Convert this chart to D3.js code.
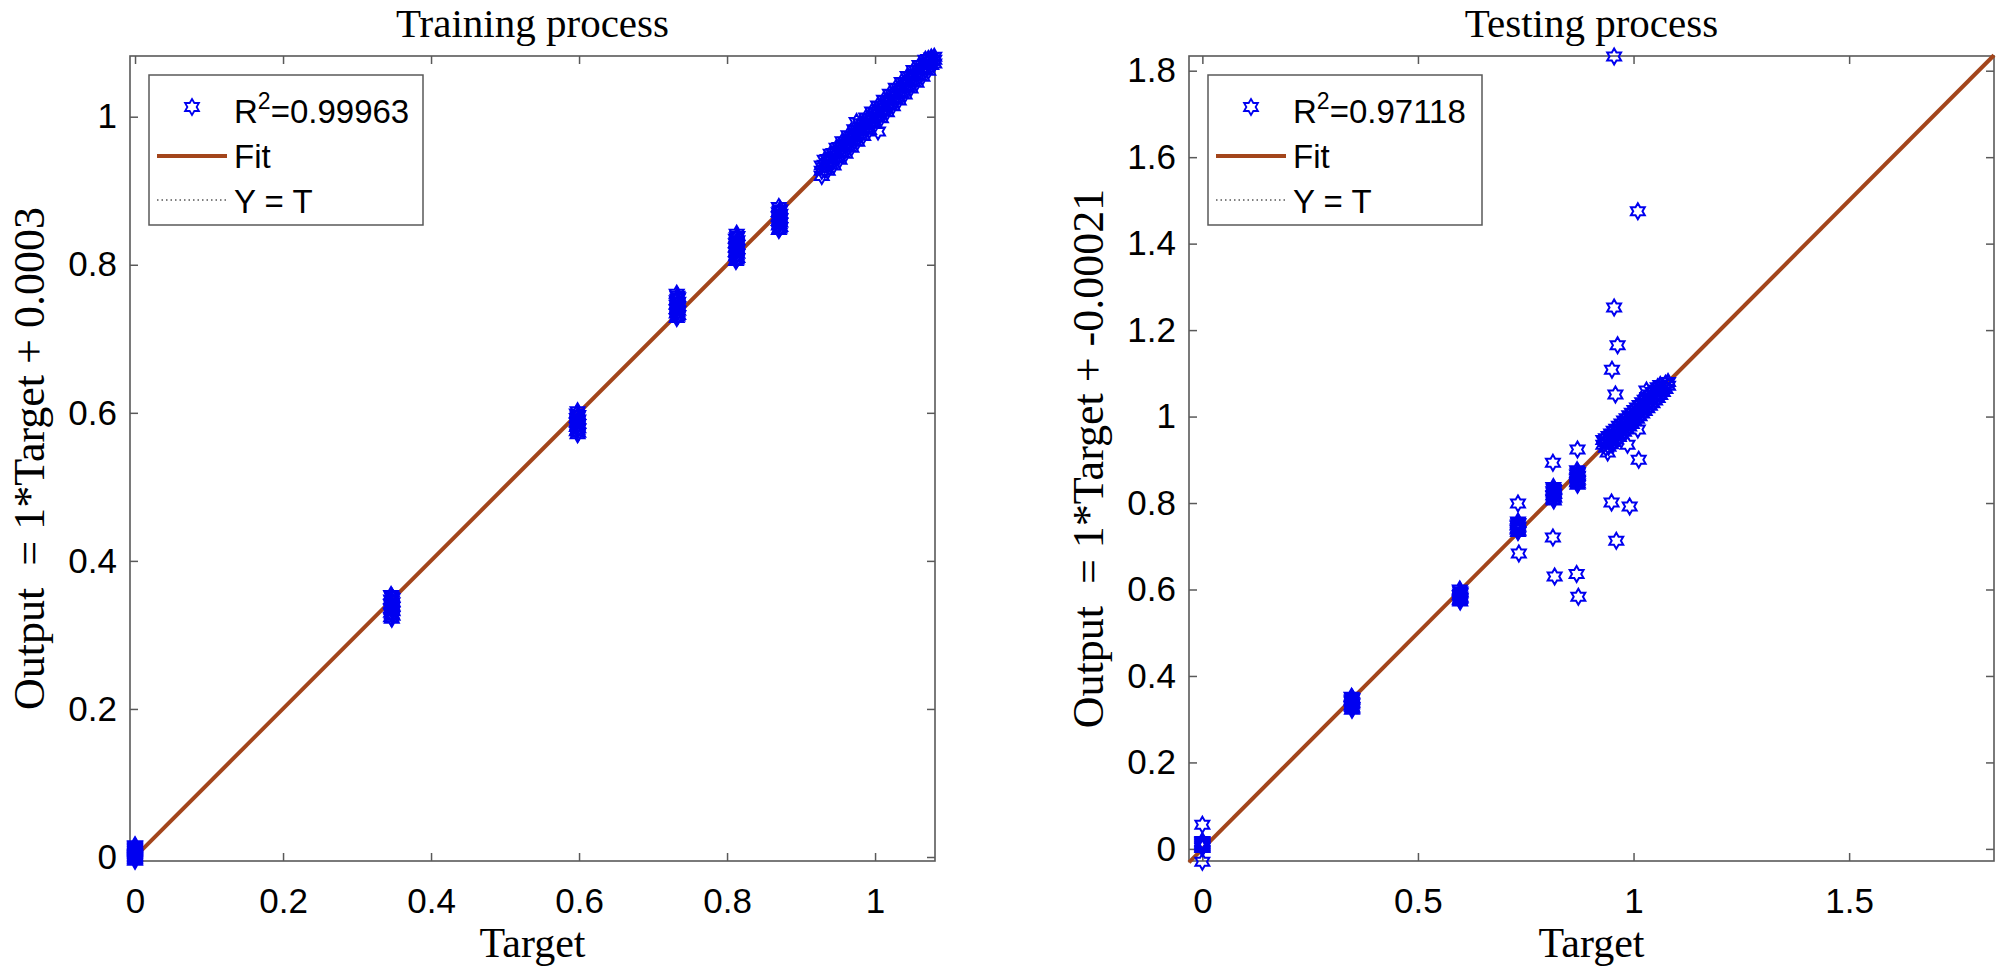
<!DOCTYPE html>
<html>
<head>
<meta charset="utf-8">
<script src="https://cdn.jsdelivr.net/npm/d3@7"></script>
<style>
  body { margin: 0; background: #fff; }
  svg { display: block; }
  text { white-space: pre; }
</style>
</head>
<body>
<svg id="chart" width="2001" height="976"></svg>
<script>
const titles = ['Training process', 'Testing process']
const yLabels = ['Output  = 1*Target + 0.0003', 'Output  = 1*Target + -0.00021']
const xLabel = 'Target'
const r2Values = ['0.99963', '0.97118']
const legendLabels = ['Fit', 'Y = T']
const fitIntercepts = [0.0003, -0.00021]

const trainTicks = [0, 0.2, 0.4, 0.6, 0.8, 1]
const testXTicks = [0, 0.5, 1, 1.5]
const testYTicks = [0, 0.2, 0.4, 0.6, 0.8, 1, 1.2, 1.4, 1.6, 1.8]
const trainXDomain = [-0.0068, 1.081]
const trainYDomain = [-0.0054, 1.082]
const testXDomain = [-0.031, 1.836]
const testYDomain = [-0.028, 1.834]

// [target, output]
const trainPoints = [
  [0, -0.005], [0, -0.0035], [0, -0.002], [0, -0.0005], [0, 0.001], [0, 0.0025], [0, 0.004],
  [0, 0.0055], [0, 0.007], [0, 0.0085], [0, 0.010], [0, 0.0115], [0, 0.013], [0, 0.0145], [0, 0.016],
  [0.347, 0.322], [0.346, 0.324], [0.348, 0.326], [0.347, 0.328], [0.346, 0.330], [0.348, 0.332],
  [0.347, 0.334], [0.346, 0.336], [0.348, 0.338], [0.347, 0.340], [0.346, 0.342], [0.348, 0.344],
  [0.347, 0.346], [0.346, 0.348], [0.348, 0.350], [0.347, 0.352], [0.346, 0.354],
  [0.598, 0.571], [0.599, 0.573], [0.597, 0.575], [0.598, 0.577], [0.599, 0.579], [0.597, 0.581],
  [0.598, 0.583], [0.599, 0.585], [0.597, 0.587], [0.598, 0.589], [0.599, 0.591], [0.597, 0.593],
  [0.598, 0.595], [0.599, 0.597], [0.597, 0.599], [0.598, 0.602],
  [0.732, 0.728], [0.733, 0.730], [0.734, 0.732], [0.732, 0.734], [0.733, 0.736], [0.734, 0.738],
  [0.732, 0.740], [0.733, 0.742], [0.734, 0.744], [0.732, 0.746], [0.733, 0.748], [0.734, 0.750],
  [0.732, 0.752], [0.733, 0.754], [0.734, 0.756], [0.733, 0.758], [0.732, 0.761],
  [0.812, 0.805], [0.813, 0.807], [0.814, 0.809], [0.812, 0.811], [0.813, 0.813], [0.814, 0.815],
  [0.812, 0.817], [0.813, 0.819], [0.814, 0.821], [0.812, 0.823], [0.813, 0.825], [0.814, 0.827],
  [0.812, 0.829], [0.813, 0.831], [0.814, 0.833], [0.812, 0.835], [0.813, 0.837], [0.814, 0.839],
  [0.813, 0.842],
  [0.870, 0.847], [0.871, 0.849], [0.872, 0.851], [0.870, 0.853], [0.871, 0.855], [0.872, 0.857],
  [0.870, 0.859], [0.871, 0.861], [0.872, 0.863], [0.870, 0.865], [0.871, 0.867], [0.872, 0.869],
  [0.870, 0.871], [0.871, 0.873], [0.872, 0.875], [0.870, 0.878],
  [0.928, 0.920], [0.928, 0.927], [0.928, 0.934], [0.932, 0.928], [0.932, 0.935], [0.932, 0.942],
  [0.936, 0.927], [0.936, 0.937], [0.936, 0.943], [0.940, 0.935], [0.940, 0.942], [0.940, 0.950],
  [0.944, 0.934], [0.944, 0.945], [0.944, 0.951], [0.948, 0.944], [0.948, 0.951], [0.948, 0.958],
  [0.952, 0.942], [0.952, 0.953], [0.952, 0.959], [0.956, 0.951], [0.956, 0.959], [0.956, 0.967],
  [0.960, 0.950], [0.960, 0.961], [0.960, 0.966], [0.964, 0.959], [0.964, 0.967], [0.964, 0.975],
  [0.968, 0.958], [0.968, 0.969], [0.968, 0.974], [0.972, 0.967], [0.972, 0.975], [0.972, 0.983],
  [0.975, 0.993], [0.976, 0.966], [0.976, 0.977], [0.976, 0.982], [0.980, 0.975], [0.980, 0.983],
  [0.980, 0.991], [0.984, 0.974], [0.984, 0.985], [0.984, 0.990], [0.988, 0.983], [0.988, 0.991],
  [0.988, 0.999], [0.992, 0.982], [0.992, 0.993], [0.992, 0.998], [0.996, 0.991], [0.996, 0.999],
  [0.996, 1.007], [1.000, 0.990], [1.000, 1.001], [1.000, 1.006], [1.004, 0.980], [1.004, 0.999],
  [1.004, 1.007], [1.004, 1.015], [1.008, 0.998], [1.008, 1.009], [1.008, 1.014], [1.012, 1.007],
  [1.012, 1.015], [1.012, 1.023], [1.016, 1.006], [1.016, 1.017], [1.016, 1.022], [1.020, 1.015],
  [1.020, 1.023], [1.020, 1.031], [1.024, 1.014], [1.024, 1.025], [1.024, 1.030], [1.028, 1.023],
  [1.028, 1.031], [1.028, 1.039], [1.032, 1.022], [1.032, 1.033], [1.032, 1.038], [1.036, 1.031],
  [1.036, 1.039], [1.036, 1.047], [1.040, 1.030], [1.040, 1.041], [1.040, 1.046], [1.044, 1.039],
  [1.044, 1.047], [1.044, 1.055], [1.048, 1.038], [1.048, 1.049], [1.048, 1.054], [1.052, 1.047],
  [1.052, 1.055], [1.052, 1.063], [1.056, 1.046], [1.056, 1.057], [1.056, 1.062], [1.060, 1.055],
  [1.060, 1.063], [1.060, 1.070], [1.064, 1.054], [1.064, 1.065], [1.064, 1.070], [1.068, 1.063],
  [1.068, 1.070], [1.068, 1.077], [1.072, 1.062], [1.072, 1.073], [1.072, 1.078], [1.076, 1.070],
  [1.076, 1.075], [1.076, 1.080], [1.080, 1.072], [1.080, 1.077], [1.080, 1.081]
]

const testPoints = [
  [0, -0.030], [0, 0.002], [0, 0.004], [0, 0.006], [0, 0.008], [0, 0.010], [0, 0.012], [0, 0.014],
  [0, 0.016], [0, 0.018], [0, 0.056],
  [0.347, 0.322], [0.348, 0.325], [0.347, 0.328], [0.346, 0.331], [0.347, 0.334], [0.348, 0.337],
  [0.347, 0.340], [0.346, 0.343], [0.347, 0.346], [0.348, 0.349], [0.346, 0.352],
  [0.598, 0.572], [0.597, 0.575], [0.598, 0.578], [0.599, 0.581], [0.598, 0.584], [0.597, 0.587],
  [0.598, 0.590], [0.599, 0.593], [0.598, 0.596], [0.597, 0.600],
  [0.732, 0.733], [0.733, 0.736], [0.731, 0.739], [0.732, 0.742], [0.733, 0.745], [0.731, 0.748],
  [0.732, 0.751], [0.733, 0.754], [0.732, 0.757],
  [0.732, 0.799], [0.734, 0.683],
  [0.815, 0.806], [0.814, 0.809], [0.816, 0.812], [0.815, 0.815], [0.814, 0.818], [0.816, 0.821],
  [0.815, 0.824], [0.814, 0.827], [0.816, 0.830], [0.815, 0.833], [0.814, 0.837],
  [0.813, 0.893], [0.813, 0.720], [0.817, 0.630],
  [0.870, 0.842], [0.871, 0.845], [0.869, 0.848], [0.870, 0.851], [0.871, 0.854], [0.869, 0.857],
  [0.870, 0.860], [0.871, 0.863], [0.869, 0.866], [0.870, 0.869], [0.871, 0.872], [0.869, 0.876],
  [0.870, 0.924], [0.868, 0.636], [0.872, 0.583],
  [0.930, 0.935], [0.930, 0.946], [0.936, 0.928], [0.936, 0.941], [0.936, 0.950], [0.942, 0.930],
  [0.942, 0.943], [0.942, 0.955], [0.948, 0.936], [0.948, 0.949], [0.948, 0.961], [0.954, 0.941],
  [0.954, 0.955], [0.954, 0.967], [0.960, 0.947], [0.960, 0.960], [0.960, 0.972], [0.966, 0.953],
  [0.966, 0.967], [0.966, 0.979], [0.972, 0.959], [0.972, 0.972], [0.972, 0.984], [0.978, 0.965],
  [0.978, 0.978], [0.978, 0.991], [0.984, 0.971], [0.984, 0.985], [0.984, 0.996], [0.990, 0.977],
  [0.990, 0.990], [0.990, 1.003], [0.996, 0.983], [0.996, 0.997], [0.996, 1.009], [1.002, 0.989],
  [1.002, 1.002], [1.002, 1.015], [1.008, 0.995], [1.008, 1.008], [1.008, 1.021], [1.014, 1.001],
  [1.014, 1.014], [1.014, 1.027], [1.020, 1.007], [1.020, 1.020], [1.020, 1.033], [1.026, 1.013],
  [1.026, 1.026], [1.026, 1.039], [1.032, 1.019], [1.032, 1.032], [1.032, 1.045], [1.038, 1.025],
  [1.038, 1.038], [1.038, 1.051], [1.044, 1.031], [1.044, 1.044], [1.044, 1.057], [1.050, 1.037],
  [1.050, 1.050], [1.050, 1.062], [1.056, 1.043], [1.056, 1.056], [1.056, 1.068], [1.062, 1.050],
  [1.062, 1.062], [1.062, 1.073], [1.068, 1.057], [1.068, 1.069], [1.074, 1.064], [1.074, 1.076],
  [1.080, 1.071], [1.080, 1.080],
  [0.955, 1.833], [1.010, 1.475], [0.955, 1.252], [0.963, 1.165], [0.950, 1.108], [0.958, 1.051],
  [1.030, 1.060], [0.940, 0.917], [0.986, 0.935], [1.012, 0.900], [1.010, 0.970], [0.949, 0.801],
  [0.991, 0.792], [0.960, 0.713]
]

const panels = [
  { left: 130, title: titles[0], yLabel: yLabels[0], r2: r2Values[0], b: fitIntercepts[0],
    xDomain: trainXDomain, yDomain: trainYDomain, xTicks: trainTicks, yTicks: trainTicks, points: trainPoints },
  { left: 1189, title: titles[1], yLabel: yLabels[1], r2: r2Values[1], b: fitIntercepts[1],
    xDomain: testXDomain, yDomain: testYDomain, xTicks: testXTicks, yTicks: testYTicks, points: testPoints }
]

const plotTop = 56
const size = 805
const axisColor = '#595959'
const fitColor = '#a3451b'
const markerColor = '#0000f0'
const sansFont = "'Liberation Sans', Arial, sans-serif"
const serifFont = "'Liberation Serif', 'Times New Roman', serif"

// MATLAB style hexagram marker
function hexagram(R) {
  const r = R / Math.sqrt(3)
  const pts = d3.range(12).map((i) => {
    const a = -Math.PI / 2 + i * Math.PI / 6
    const rad = i % 2 === 0 ? R : r
    return [rad * Math.cos(a), rad * Math.sin(a)]
  })
  return 'M' + pts.map((p) => p.join(',')).join('L') + 'Z'
}
const starPath = hexagram(8)

const svg = d3.select('#chart')
svg.append('rect').attr('width', 2001).attr('height', 976).attr('fill', '#fff')

panels.forEach((p) => drawPanel(p))

function drawPanel(p) {
  const x = d3.scaleLinear().domain(p.xDomain).range([p.left, p.left + size])
  const y = d3.scaleLinear().domain(p.yDomain).range([plotTop + size, plotTop])
  const g = svg.append('g')

  const styleAxis = (sel) => {
    sel.select('.domain').remove()
    sel.selectAll('.tick line').attr('stroke', axisColor).attr('stroke-width', 1.5)
    sel.selectAll('.tick text')
      .attr('fill', '#000')
      .attr('font-family', sansFont)
      .attr('font-size', 35)
  }

  g.append('g')
    .attr('transform', `translate(0,${plotTop + size})`)
    .call(d3.axisBottom(x).tickValues(p.xTicks).tickFormat((d) => String(d)).tickSize(-8).tickPadding(27))
    .call(styleAxis)
  g.append('g')
    .attr('transform', `translate(0,${plotTop})`)
    .call(d3.axisTop(x).tickValues(p.xTicks).tickFormat('').tickSize(-8))
    .call(styleAxis)
  g.append('g')
    .attr('transform', `translate(${p.left},0)`)
    .call(d3.axisLeft(y).tickValues(p.yTicks).tickFormat((d) => String(d)).tickSize(-8).tickPadding(13))
    .call(styleAxis)
  g.append('g')
    .attr('transform', `translate(${p.left + size},0)`)
    .call(d3.axisRight(y).tickValues(p.yTicks).tickFormat('').tickSize(-8))
    .call(styleAxis)

  g.append('rect')
    .attr('x', p.left).attr('y', plotTop)
    .attr('width', size).attr('height', size)
    .attr('fill', 'none')
    .attr('stroke', axisColor)
    .attr('stroke-width', 1.6)

  // Y = T and fit lines
  const [x0, x1] = p.xDomain
  g.append('line')
    .attr('x1', x(x0)).attr('y1', y(x0))
    .attr('x2', x(x1)).attr('y2', y(x1))
    .attr('stroke', '#000').attr('stroke-width', 1)
    .attr('stroke-dasharray', '1.5,3')
  g.append('line')
    .attr('x1', x(x0)).attr('y1', y(x0 + p.b))
    .attr('x2', x(x1)).attr('y2', y(x1 + p.b))
    .attr('stroke', fitColor).attr('stroke-width', 4)

  g.append('g').selectAll('path')
    .data(p.points)
    .enter().append('path')
    .attr('d', starPath)
    .attr('transform', (d) => `translate(${x(d[0])},${y(d[1])})`)
    .attr('fill', 'none')
    .attr('stroke', markerColor)
    .attr('stroke-width', 2)

  // titles and labels
  g.append('text')
    .attr('x', p.left + size / 2).attr('y', 37)
    .attr('text-anchor', 'middle')
    .attr('font-family', serifFont).attr('font-size', 41)
    .text(p.title)
  g.append('text')
    .attr('x', p.left + size / 2).attr('y', 957)
    .attr('text-anchor', 'middle')
    .attr('font-family', serifFont).attr('font-size', 42)
    .text(xLabel)
  g.append('text')
    .attr('transform', `translate(${p.left - 86},${plotTop + size / 2}) rotate(-90)`)
    .attr('text-anchor', 'middle')
    .attr('font-family', serifFont).attr('font-size', 44)
    .text(p.yLabel)

  // legend
  const lg = g.append('g').attr('transform', `translate(${p.left},${plotTop})`)
  lg.append('rect')
    .attr('x', 19).attr('y', 19).attr('width', 274).attr('height', 150)
    .attr('fill', '#fff').attr('stroke', axisColor).attr('stroke-width', 1.5)
  lg.append('path')
    .attr('d', starPath)
    .attr('transform', 'translate(62,51)')
    .attr('fill', 'none').attr('stroke', markerColor).attr('stroke-width', 1.8)
  lg.append('line')
    .attr('x1', 27).attr('x2', 97).attr('y1', 100).attr('y2', 100)
    .attr('stroke', fitColor).attr('stroke-width', 4)
  lg.append('line')
    .attr('x1', 27).attr('x2', 97).attr('y1', 144).attr('y2', 144)
    .attr('stroke', '#000').attr('stroke-width', 1).attr('stroke-dasharray', '1.5,3')

  const r2Text = lg.append('text')
    .attr('x', 104).attr('y', 67)
    .attr('font-family', sansFont).attr('font-size', 33)
  r2Text.append('tspan').text('R')
  r2Text.append('tspan').attr('dy', -14).attr('font-size', 23).text('2')
  r2Text.append('tspan').attr('dy', 14).text('=' + p.r2)

  lg.selectAll('.lbl')
    .data(legendLabels)
    .enter().append('text')
    .attr('class', 'lbl')
    .attr('x', 104).attr('y', (d, i) => 112 + i * 45)
    .attr('font-family', sansFont).attr('font-size', 33)
    .text((d) => d)
}
</script>
</body>
</html>
